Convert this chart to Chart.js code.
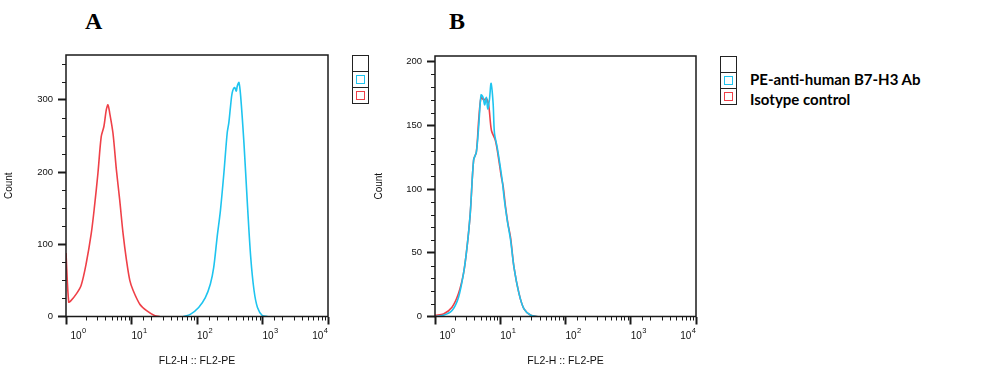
<!DOCTYPE html>
<html>
<head>
<meta charset="utf-8">
<script src="https://cdn.jsdelivr.net/npm/chart.js@4.4.1/dist/chart.umd.min.js"></script>
<style>
  html, body { margin: 0; padding: 0; background: #fff; }
  body { width: 983px; height: 367px; position: relative; overflow: hidden; }
  .panel { position: absolute; top: 0; width: 340px; height: 367px; }
  #panelA { left: 0; }
  #panelB { left: 370px; }
  .letter { position: absolute; top: 8px; font: bold 24px "Liberation Serif", "Times New Roman", serif; color: #000; }
  .legend { position: absolute; width: 15px; border: 1px solid #222; background: #fff; }
  .legend .cell { height: 15px; border-top: 1px solid #222; position: relative; }
  .legend .cell:first-child { border-top: none; }
  .legend .swatch { position: absolute; left: 3px; top: 3px; width: 7px; height: 7px; border: 1px solid; }
  .legendText { position: absolute; left: 750px; font: bold 15px Lato, "Open Sans", sans-serif; color: #000; line-height: 20px; white-space: nowrap; }
</style>
</head>
<body>
<div class="letter" style="left:85px;">A</div>
<div class="letter" style="left:449px;">B</div>

<div class="panel" id="panelA"><canvas id="chartA" width="340" height="367"></canvas></div>
<div class="panel" id="panelB"><canvas id="chartB" width="340" height="367"></canvas></div>

<div class="legend" id="legendA" style="left:352px; top:55px;"></div>
<div class="legend" id="legendB" style="left:720px; top:56px;"></div>
<div class="legendText" id="legendTextB" style="top:69px;"></div>

<script>
// series labels and colours
const seriesLabels = ['PE-anti-human B7-H3 Ab', 'Isotype control'];
const seriesColors = ['#1ec4ef', '#ef4048'];

// x axis: log scale FL2-PE, labels 10^n on the decades
const xDecades = [1, 10, 100, 1000, 10000];
const xTickBase = '10';
const xTickExps = ['0', '1', '2', '3', '4'];

// panel A
const aYMax = 362;
const aYStep = 25;
const aYLabelEvery = 100;
const aIsoX = [1, 1.1, 1.19, 1.43, 1.7, 2.03, 2.43, 2.72, 3.07, 3.45, 3.79, 4.12, 4.37, 4.64, 5.21, 5.88, 6.61, 7.43, 8.38, 9.42, 10.6, 13.4, 17, 22.8, 27];
const aIsoY = [88, 20, 22, 31, 43, 73, 115, 152, 198, 249, 263, 286, 293, 282, 254, 203, 161, 115, 78, 50, 36, 17, 8, 1, 0];
const aB7X = [62, 79, 106, 134, 160, 180, 203, 228, 257, 289, 306, 325, 345, 375, 398, 412, 437, 464, 521, 587, 661, 743, 838, 1000, 1194];
const aB7Y = [0, 3, 12.5, 26, 45, 68, 110, 147, 198, 254, 268, 291, 310, 317, 312, 319, 324, 305, 240, 157, 82, 36, 12.5, 1, 0];

// panel B
const bYMax = 204.5;
const bYStep = 10;
const bYLabelEvery = 50;
const bIsoX = [1, 1.35, 1.81, 2.29, 2.74, 3.09, 3.47, 3.91, 4.3, 4.67, 5.08, 5.57, 6.13, 6.65, 7.33, 8.45, 9.5, 10.35, 11.1, 12.05, 13.1, 14.4, 16.2, 19.4, 23.1, 29.3, 37];
const bIsoY = [1, 2, 7, 18, 34, 54, 81, 123, 129, 154, 172, 170, 171, 166, 146, 138, 123, 110, 102, 86, 73, 62, 39, 18, 6, 1, 0];
const bB7X = [1, 1.35, 1.81, 2.29, 2.74, 3.09, 3.47, 3.91, 4.3, 4.67, 5.08, 5.45, 5.78, 6.13, 6.43, 6.82, 7.24, 7.78, 8.15, 8.97, 9.84, 10.7, 11.6, 12.8, 14.4, 16.2, 19.4, 23.1, 29.3, 37];
const bB7Y = [0, 1, 4.5, 15, 34, 54, 81, 123, 129, 149, 174, 172, 166, 172, 163, 170, 183, 167, 144, 133, 120, 107, 91, 75.5, 60, 39, 18, 6, 1, 0];

const axisColor = '#1a1a1a';
const textColor = '#111';
const fontFamily = '"Liberation Sans", Arial, sans-serif';
const isDecade = v => xDecades.includes(v);

const toPoints = (xs, ys) => xs.map((x, i) => ({ x, y: ys[i] }));

// box round the plot, the short minor ticks and the 10^n labels
const frameAndMinorTicks = {
    id: 'frameAndMinorTicks',
    afterDraw(chart, args, opts) {
        const { ctx, chartArea: a, scales } = chart;
        ctx.save();
        ctx.strokeStyle = axisColor;
        ctx.lineWidth = 1.5;
        ctx.strokeRect(a.left, a.top, a.right - a.left, a.bottom - a.top);
        ctx.lineWidth = 1;
        ctx.beginPath();
        scales.x.ticks.forEach(t => {
            if (isDecade(t.value)) return;
            const px = Math.round(scales.x.getPixelForValue(t.value)) + 0.5;
            ctx.moveTo(px, a.bottom);
            ctx.lineTo(px, a.bottom + 4);
        });
        scales.y.ticks.forEach(t => {
            if (t.value % opts.labelEvery === 0) return;
            const py = Math.round(scales.y.getPixelForValue(t.value)) + 0.5;
            ctx.moveTo(a.left, py);
            ctx.lineTo(a.left - 4, py);
        });
        ctx.stroke();

        // decade labels: "10" with a raised exponent, kept inside the plot width
        ctx.fillStyle = textColor;
        ctx.textBaseline = 'alphabetic';
        ctx.textAlign = 'left';
        const baseFont = `10px ${fontFamily}`;
        const expFont = `7.5px ${fontFamily}`;
        xDecades.forEach((v, i) => {
            ctx.font = baseFont;
            const wBase = ctx.measureText(xTickBase).width;
            ctx.font = expFont;
            const wExp = ctx.measureText(xTickExps[i]).width;
            let x = scales.x.getPixelForValue(v);
            x = Math.max(x, a.left + 4.5);
            x = Math.min(x, a.right - wBase - wExp - 0.5);
            ctx.font = baseFont;
            ctx.fillText(xTickBase, x, a.bottom + 22.5);
            ctx.font = expFont;
            ctx.fillText(xTickExps[i], x + wBase + 0.5, a.bottom + 16.5);
        });
        ctx.restore();
    }
};

function makeChart(id, sets, yMax, yStep, labelEvery, yWidth, rightPad, topPad) {
    return new Chart(document.getElementById(id).getContext('2d'), {
        type: 'line',
        data: {
            datasets: sets.map(s => ({
                label: s.label,
                data: s.data,
                borderColor: s.color,
                borderWidth: 1.6,
                pointRadius: 0,
                tension: 0.3,
                fill: false,
            })),
        },
        options: {
            responsive: false,
            animation: false,
            events: [],
            layout: { padding: { top: topPad, right: rightPad, left: 0, bottom: 0 } },
            plugins: {
                legend: { display: false },
                tooltip: { enabled: false },
                frameAndMinorTicks: { labelEvery },
            },
            scales: {
                x: {
                    type: 'logarithmic',
                    min: 1,
                    max: 10000,
                    afterFit: s => { s.height = 50.5; },
                    border: { display: false },
                    grid: {
                        drawOnChartArea: false,
                        tickLength: 8,
                        tickWidth: 2,
                        tickColor: c => (c.tick && isDecade(c.tick.value)) ? axisColor : 'rgba(0,0,0,0)',
                    },
                    ticks: {
                        autoSkip: false,
                        maxRotation: 0,
                        callback: () => '',
                    },
                    title: {
                        display: true,
                        text: 'FL2-H :: FL2-PE',
                        color: textColor,
                        padding: { top: 0, bottom: 0 },
                        font: { family: fontFamily, size: 10.5 },
                    },
                },
                y: {
                    min: 0,
                    max: yMax,
                    afterFit: s => { s.width = yWidth; },
                    border: { display: false },
                    grid: {
                        drawOnChartArea: false,
                        tickLength: 8,
                        tickWidth: 2,
                        tickColor: c => (c.tick && c.tick.value % labelEvery === 0) ? axisColor : 'rgba(0,0,0,0)',
                    },
                    ticks: {
                        stepSize: yStep,
                        includeBounds: false,
                        autoSkip: false,
                        padding: 5,
                        color: textColor,
                        font: { family: fontFamily, size: 9.5 },
                        callback: v => v % labelEvery === 0 ? String(v) : '',
                    },
                    title: {
                        display: true,
                        text: 'Count',
                        color: textColor,
                        padding: { top: 3, bottom: 0 },
                        font: { family: fontFamily, size: 10 },
                    },
                },
            },
        },
        plugins: [frameAndMinorTicks],
    });
}

// first dataset is drawn on top
makeChart('chartA', [
    { label: seriesLabels[0], data: toPoints(aB7X, aB7Y), color: seriesColors[0] },
    { label: seriesLabels[1], data: toPoints(aIsoX, aIsoY), color: seriesColors[1] },
], aYMax, aYStep, aYLabelEvery, 66, 12, 55);

makeChart('chartB', [
    { label: seriesLabels[0], data: toPoints(bB7X, bB7Y), color: seriesColors[0] },
    { label: seriesLabels[1], data: toPoints(bIsoX, bIsoY), color: seriesColors[1] },
], bYMax, bYStep, bYLabelEvery, 65, 14, 56);

// legend boxes: an empty first row, then one swatch per series
['legendA', 'legendB'].forEach(id => {
    const box = document.getElementById(id);
    const rows = [null].concat(seriesColors);
    rows.forEach(color => {
        const cell = document.createElement('div');
        cell.className = 'cell';
        if (color) {
            const sw = document.createElement('div');
            sw.className = 'swatch';
            sw.style.borderColor = color;
            cell.appendChild(sw);
        }
        box.appendChild(cell);
    });
});
document.getElementById('legendTextB').innerHTML = seriesLabels.map(t => `<div>${t}</div>`).join('');
</script>
</body>
</html>
